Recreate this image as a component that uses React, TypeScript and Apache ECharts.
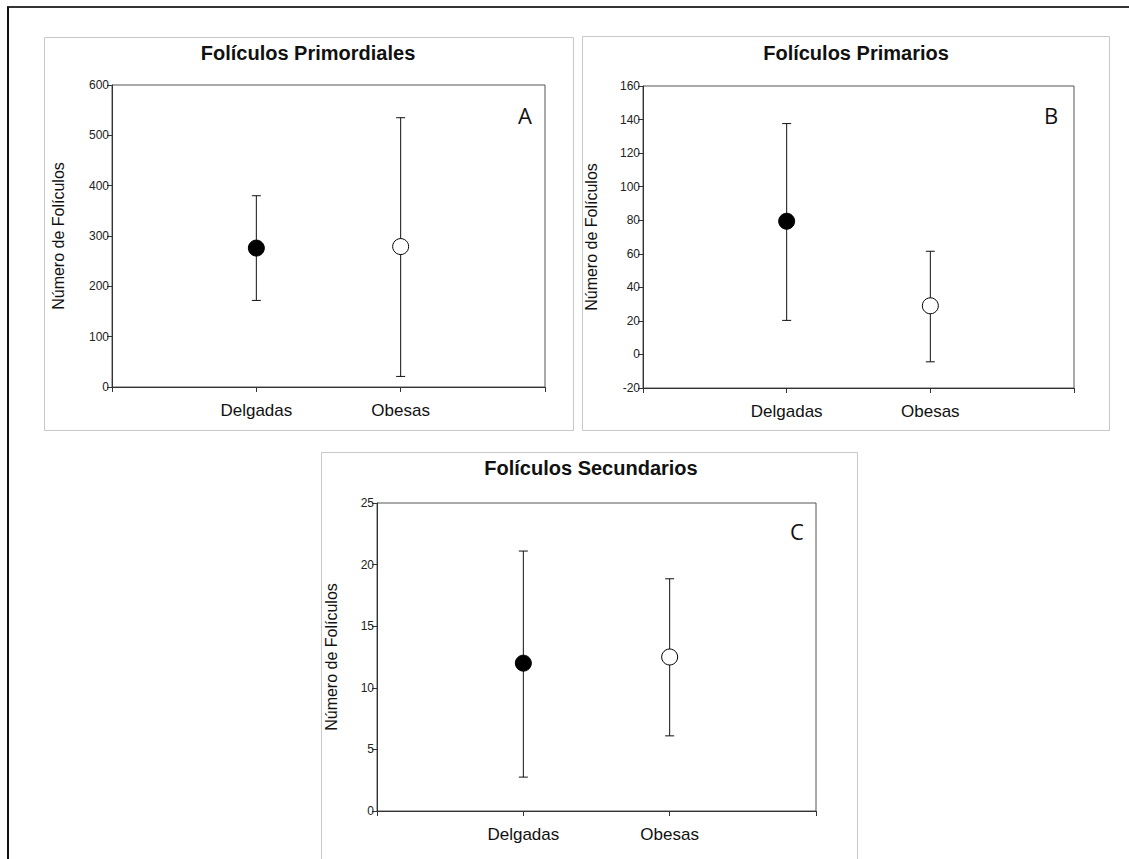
import React, { useEffect, useRef } from "react";
import * as echarts from "echarts";

const categories = ["Delgadas", "Obesas"];

const titles = ["Folículos Primordiales", "Folículos Primarios", "Folículos Secundarios"];
const panelLetters = ["A", "B", "C"];
const yAxisName = "Número de Folículos";

// Panel A – primordial follicles
const meanA = [276, 279];
const lowA = [172, 21];
const highA = [380, 535];

// Panel B – primary follicles
const meanB = [79.4, 29];
const lowB = [20.3, -4.4];
const highB = [137.6, 61.5];

// Panel C – secondary follicles
const meanC = [12, 12.5];
const lowC = [2.75, 6.1];
const highC = [21.1, 18.85];

// Y axis scales (min, max, step)
const yScaleA = [0, 600, 100];
const yScaleB = [-20, 160, 20];
const yScaleC = [0, 25, 5];

const FONT = "'Liberation Sans', Arial, sans-serif";

function buildOption() {
  const xData = ["", ...categories, ""];
  const grids = [
    { left: 112, top: 85, width: 433, height: 302 },
    { left: 643, top: 86, width: 431, height: 302 },
    { left: 377, top: 503, width: 439, height: 308 },
  ];
  const scales = [yScaleA, yScaleB, yScaleC];
  const nameGaps = [46, 44, 38];
  const means = [meanA, meanB, meanC];
  const lows = [lowA, lowB, lowC];
  const highs = [highA, highB, highC];

  const axisColor = "#333";

  const series: any[] = [];
  for (let p = 0; p < 3; p++) {
    series.push({
      type: "custom",
      xAxisIndex: p,
      yAxisIndex: p,
      z: 2,
      encode: { x: 0, y: [1, 2] },
      data: categories.map((c, i) => [c, lows[p][i], highs[p][i]]),
      renderItem: (params: any, api: any) => {
        const x = api.value(0);
        const lo = api.coord([x, api.value(1)]);
        const hi = api.coord([x, api.value(2)]);
        const hw = 4.5;
        const st = { stroke: "#111", lineWidth: 1 };
        return {
          type: "group",
          children: [
            { type: "line", shape: { x1: lo[0], y1: lo[1], x2: hi[0], y2: hi[1] }, style: st },
            { type: "line", shape: { x1: lo[0] - hw, y1: lo[1], x2: lo[0] + hw, y2: lo[1] }, style: st },
            { type: "line", shape: { x1: hi[0] - hw, y1: hi[1], x2: hi[0] + hw, y2: hi[1] }, style: st },
          ],
        };
      },
    });
    series.push({
      type: "scatter",
      xAxisIndex: p,
      yAxisIndex: p,
      z: 5,
      symbol: "circle",
      symbolSize: 16,
      data: categories.map((c, i) => ({
        value: [c, means[p][i]],
        itemStyle: {
          color: i === 0 ? "#000" : "#fff",
          borderColor: "#000",
          borderWidth: 1,
          opacity: 1,
        },
      })),
      emphasis: { disabled: true },
    });
  }

  const graphic: any[] = [
    // outer frame (top & left visible)
    { type: "line", z: 1, shape: { x1: 7, y1: 7, x2: 1129, y2: 7 }, style: { stroke: "#333", lineWidth: 2 } },
    { type: "line", z: 1, shape: { x1: 8, y1: 7, x2: 8, y2: 859 }, style: { stroke: "#111", lineWidth: 2 } },
    // panel frames
    { type: "rect", z: 1, shape: { x: 44.5, y: 37.5, width: 529, height: 393 }, style: { fill: "none", stroke: "#c8c8c8", lineWidth: 1 } },
    { type: "rect", z: 1, shape: { x: 582.5, y: 36.5, width: 527, height: 394 }, style: { fill: "none", stroke: "#c8c8c8", lineWidth: 1 } },
    { type: "rect", z: 1, shape: { x: 321.5, y: 452.5, width: 536, height: 420 }, style: { fill: "none", stroke: "#c8c8c8", lineWidth: 1 } },
  ];
  const titlePos = [
    [308, 53],
    [856, 53],
    [591, 468],
  ];
  const letterPos = [
    [525, 115],
    [1051, 115],
    [797, 531],
  ];
  for (let p = 0; p < 3; p++) {
    graphic.push({
      type: "text",
      z: 10,
      x: titlePos[p][0],
      y: titlePos[p][1],
      style: {
        text: titles[p],
        textAlign: "center",
        textVerticalAlign: "middle",
        font: `bold 20px ${FONT}`,
        fill: "#111",
      },
    });
    graphic.push({
      type: "text",
      z: 10,
      x: letterPos[p][0],
      y: letterPos[p][1],
      style: {
        text: panelLetters[p],
        textAlign: "center",
        textVerticalAlign: "middle",
        font: `22px 'Open Sans', Lato, sans-serif`,
        fill: "#111",
      },
    });
  }

  return {
    animation: false,
    backgroundColor: "#fff",
    grid: grids.map((g) => ({ ...g, show: true, borderColor: "#555", borderWidth: 1, backgroundColor: "transparent" })),
    xAxis: grids.map((_, p) => ({
      type: "category",
      gridIndex: p,
      data: xData,
      boundaryGap: false,
      axisLine: { show: true, onZero: false, lineStyle: { color: axisColor, width: 1 } },
      axisTick: { show: true, length: 5, interval: 0, lineStyle: { color: axisColor } },
      axisLabel: { interval: 0, fontSize: 17, fontFamily: FONT, color: "#111", margin: 15 },
      splitLine: { show: false },
    })),
    yAxis: grids.map((_, p) => ({
      type: "value",
      gridIndex: p,
      min: scales[p][0],
      max: scales[p][1],
      interval: scales[p][2],
      axisLine: { show: true, onZero: false, lineStyle: { color: axisColor, width: 1 } },
      axisTick: { show: true, length: 5, lineStyle: { color: axisColor } },
      axisLabel: { fontSize: 12, fontFamily: FONT, color: "#222", margin: 3 },
      splitLine: { show: false },
      name: yAxisName,
      nameLocation: "middle",
      nameRotate: 90,
      nameGap: nameGaps[p],
      nameTextStyle: { fontSize: 16, fontFamily: FONT, color: "#111" },
    })),
    series,
    graphic,
  };
}

export default function App() {
  const ref = useRef<HTMLDivElement>(null);
  useEffect(() => {
    if (!ref.current) return;
    const chart = echarts.init(ref.current, undefined, { renderer: "svg" });
    chart.setOption(buildOption() as any);
    return () => chart.dispose();
  }, []);
  return (
    <div
      ref={ref}
      style={{ position: "absolute", left: 0, top: 0, width: 1129, height: 859, background: "#fff" }}
    />
  );
}
